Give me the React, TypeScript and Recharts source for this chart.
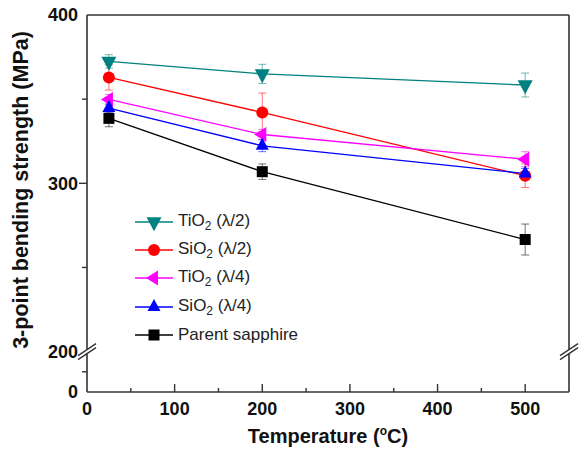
import React from 'react';
import { LineChart, Line, XAxis, YAxis, ErrorBar, Legend, ReferenceLine, ReferenceDot } from 'recharts';

const temperatures = [25, 200, 500];

const tiO2HalfStrength = [372.4, 365, 358.4];
const tiO2HalfError = [4, 5.7, 7.1];
const siO2HalfStrength = [362.9, 342.1, 304.5];
const siO2HalfError = [7.5, 11.5, 7];
const tiO2QuarterStrength = [349.8, 329, 314.3];
const tiO2QuarterError = [3, 3, 4.5];
const siO2QuarterStrength = [344.7, 322.3, 305.8];
const siO2QuarterError = [2.5, 3.5, 3];
const parentStrength = [338.6, 306.9, 266.6];
const parentError = [5, 4.6, 9.2];

const xTicks = [0, 50, 100, 150, 200, 250, 300, 350, 400, 450, 500];
// the axis is broken below 200: the bottom of the scale is shown as 0
const Y_BOTTOM = 176;
const yTicks = [Y_BOTTOM, 188, 200, 250, 300, 350, 400];
const yMajorLabels = [200, 300, 400];

const data = temperatures.map((t, i) => ({
  temp: t,
  tiO2Half: tiO2HalfStrength[i],
  tiO2HalfErr: tiO2HalfError[i],
  siO2Half: siO2HalfStrength[i],
  siO2HalfErr: siO2HalfError[i],
  tiO2Quarter: tiO2QuarterStrength[i],
  tiO2QuarterErr: tiO2QuarterError[i],
  siO2Quarter: siO2QuarterStrength[i],
  siO2QuarterErr: siO2QuarterError[i],
  parent: parentStrength[i],
  parentErr: parentError[i],
}));

type Shape = 'down' | 'circle' | 'left' | 'up' | 'square';

const series: { key: string; name: string; color: string; shape: Shape }[] = [
  { key: 'tiO2Half', name: 'TiO2 (λ/2)', color: '#008080', shape: 'down' },
  { key: 'siO2Half', name: 'SiO2 (λ/2)', color: '#ff0000', shape: 'circle' },
  { key: 'tiO2Quarter', name: 'TiO2 (λ/4)', color: '#ff00ff', shape: 'left' },
  { key: 'siO2Quarter', name: 'SiO2 (λ/4)', color: '#0000ff', shape: 'up' },
  { key: 'parent', name: 'Parent sapphire', color: '#000000', shape: 'square' },
];

const FONT = '"Liberation Sans", Arial, sans-serif';
const AXIS = '#333';

const Marker = ({ cx, cy, shape, color }: { cx?: number; cy?: number; shape: Shape; color: string }) => {
  if (cx == null || cy == null) return null;
  if (shape === 'circle') return <circle cx={cx} cy={cy} r={6} fill={color} />;
  if (shape === 'square') return <rect x={cx - 5.5} y={cy - 5.5} width={11} height={11} fill={color} />;
  if (shape === 'down') {
    const w = 7.5, h = 14;
    return <path d={`M${cx - w},${cy - h / 3}L${cx + w},${cy - h / 3}L${cx},${cy + (2 * h) / 3}Z`} fill={color} />;
  }
  if (shape === 'up') {
    const w = 6.5, h = 12;
    return <path d={`M${cx - w},${cy + h / 3}L${cx + w},${cy + h / 3}L${cx},${cy - (2 * h) / 3}Z`} fill={color} />;
  }
  const w = 12, h = 7.5;
  return <path d={`M${cx + w / 3},${cy - h}L${cx + w / 3},${cy + h}L${cx - (2 * w) / 3},${cy}Z`} fill={color} />;
};

const renderName = (name: string) =>
  name.split(/(O2)/).map((part, i) =>
    part === 'O2' ? (
      <React.Fragment key={i}>
        O<sub style={{ fontSize: 12, verticalAlign: -4 }}>2</sub>
      </React.Fragment>
    ) : (
      <React.Fragment key={i}>{part}</React.Fragment>
    )
  );

const LegendContent = (props: any) => {
  const { payload = [] } = props;
  // keep the order of the series, not the alphabetical one
  const items = series.filter((s) => payload.some((p: any) => p.value === s.name));
  return (
    <div style={{ fontFamily: FONT, fontSize: 17, color: '#222' }}>
      {items.map((s) => (
        <div key={s.key} style={{ display: 'flex', alignItems: 'center', height: 28.3 }}>
          <svg width={40} height={20} style={{ overflow: 'visible' }}>
            <line x1={1} x2={39} y1={10} y2={10} stroke={s.color} strokeWidth={1.3} />
            <Marker cx={20} cy={10} shape={s.shape} color={s.color} />
          </svg>
          <span style={{ marginLeft: 4, whiteSpace: 'nowrap' }}>{renderName(s.name)}</span>
        </div>
      ))}
    </div>
  );
};

const XTick = (props: any) => {
  const { x, y, payload } = props;
  const v = payload.value;
  const major = v % 100 === 0;
  return (
    <g>
      {v > 0 && <line x1={x} x2={x} y1={y} y2={y - (major ? 8 : 4)} stroke={AXIS} strokeWidth={1.4} />}
      {major && (
        <text x={x} y={y + 22.5} textAnchor="middle" fontFamily={FONT} fontSize={18} fontWeight="bold" fill="#111">
          {v}
        </text>
      )}
    </g>
  );
};

const YTick = (props: any) => {
  const { x, y, payload } = props;
  const v = payload.value;
  const label = v === Y_BOTTOM ? '0' : yMajorLabels.includes(v) ? String(v) : '';
  const len = v === 300 ? 8 : v === 188 || v === 250 || v === 350 ? 5 : 0;
  return (
    <g>
      {len > 0 && <line x1={x} x2={x - len} y1={y} y2={y} stroke={AXIS} strokeWidth={1.4} />}
      {label && (
        <text x={x - 9} y={y + 6.3} textAnchor="end" fontFamily={FONT} fontSize={18} fontWeight="bold" fill="#111">
          {label}
        </text>
      )}
    </g>
  );
};

const BreakMark = (props: any) => {
  const { cx, cy } = props;
  if (cx == null || cy == null) return <g />;
  return (
    <g>
      <path d={`M${cx - 9},${cy + 8}L${cx + 9},${cy - 4}L${cx + 9},${cy - 8}L${cx - 9},${cy + 4}Z`} fill="#fff" />
      <line x1={cx - 9} y1={cy + 8} x2={cx + 9} y2={cy - 4} stroke={AXIS} strokeWidth={1.4} />
      <line x1={cx - 9} y1={cy + 4} x2={cx + 9} y2={cy - 8} stroke={AXIS} strokeWidth={1.4} />
    </g>
  );
};

const YTitle = () => (
  <text
    x={28}
    y={190}
    transform="rotate(-90 28 190)"
    textAnchor="middle"
    fontFamily={FONT}
    fontSize={21.5}
    fontWeight="bold"
    fill="#111"
  >
    3-point bending strength (MPa)
  </text>
);

const XTitle = () => (
  <text x={328} y={443} textAnchor="middle" fontFamily={FONT} fontSize={20} fontWeight="bold" fill="#111">
    Temperature (
    <tspan dy={-8} fontSize={12}>
      o
    </tspan>
    <tspan dy={8}>C)</tspan>
  </text>
);

export default function App() {
  return (
    <div style={{ position: 'absolute', left: 0, top: 0, width: 582, height: 451, background: '#fff' }}>
      <LineChart width={582} height={451} data={data} margin={{ top: 15, right: 13, bottom: 29, left: 0 }}>
        <XAxis
          dataKey="temp"
          type="number"
          domain={[0, 550]}
          ticks={xTicks}
          interval={0}
          height={30}
          tickSize={0}
          tickMargin={0}
          tick={<XTick />}
          axisLine={{ stroke: AXIS, strokeWidth: 1.6 }}
          label={{ content: <XTitle /> }}
        />
        <YAxis
          type="number"
          domain={[Y_BOTTOM, 400]}
          ticks={yTicks}
          interval={0}
          width={87}
          tickSize={0}
          tickMargin={0}
          tick={<YTick />}
          axisLine={{ stroke: AXIS, strokeWidth: 1.6 }}
          label={{ content: <YTitle /> }}
        />
        <ReferenceLine y={400} stroke={AXIS} strokeWidth={1.6} />
        <ReferenceLine x={550} stroke={AXIS} strokeWidth={1.6} />
        <ReferenceDot x={0} y={200} ifOverflow="visible" shape={(p: any) => <BreakMark {...p} />} />
        <ReferenceDot x={550} y={200} ifOverflow="visible" shape={(p: any) => <BreakMark {...p} />} />
        <Legend
          layout="horizontal"
          verticalAlign="middle"
          align="center"
          content={<LegendContent />}
          wrapperStyle={{ left: 134, top: 207.5, width: 200, height: 142 }}
        />
        {series.map((s) => (
          <Line
            key={s.key}
            dataKey={s.key}
            name={s.name}
            stroke={s.color}
            strokeWidth={1.3}
            isAnimationActive={false}
            dot={(p: any) => <Marker key={`${s.key}-${p.index}`} cx={p.cx} cy={p.cy} shape={s.shape} color={s.color} />}
            activeDot={false}
          >
            <ErrorBar
              dataKey={`${s.key}Err`}
              direction="y"
              width={4}
              stroke={s.color}
              strokeOpacity={0.55}
              strokeWidth={1}
              isAnimationActive={false}
            />
          </Line>
        ))}
      </LineChart>
    </div>
  );
}
